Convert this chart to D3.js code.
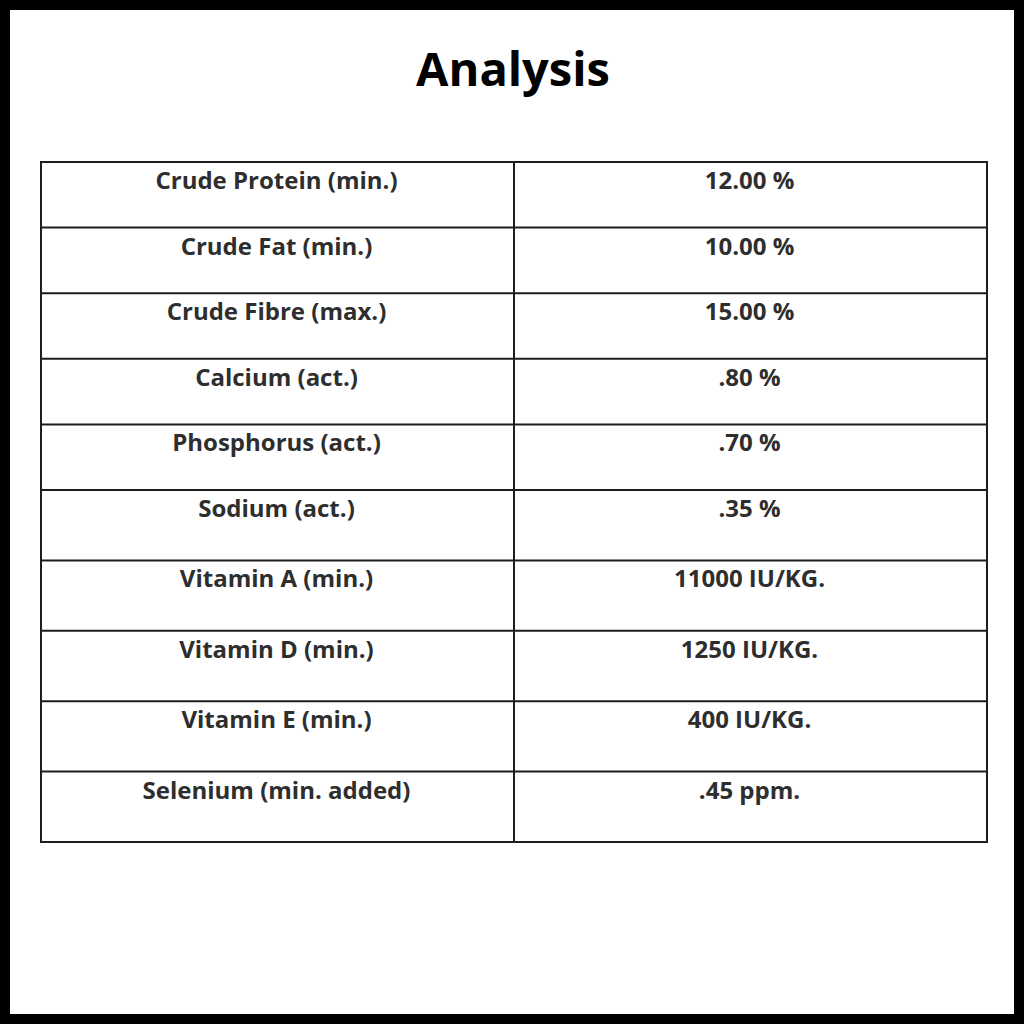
<!DOCTYPE html>
<html>
<head>
<meta charset="utf-8">
<script src="https://cdn.jsdelivr.net/npm/d3@7"></script>
<style>
  html, body { margin: 0; padding: 0; background: #000; }
  svg { display: block; }
</style>
</head>
<body>
<svg id="chart" width="1024" height="1024"></svg>
<script>
const nutrients = [
  "Crude Protein (min.)",
  "Crude Fat (min.)",
  "Crude Fibre (max.)",
  "Calcium (act.)",
  "Phosphorus (act.)",
  "Sodium (act.)",
  "Vitamin A (min.)",
  "Vitamin D (min.)",
  "Vitamin E (min.)",
  "Selenium (min. added)"
];
const amounts = [
  "12.00 %",
  "10.00 %",
  "15.00 %",
  ".80 %",
  ".70 %",
  ".35 %",
  "11000 IU/KG.",
  "1250 IU/KG.",
  "400 IU/KG.",
  ".45 ppm."
];
const columns = ["nutrient", "amount"];
const title = "Analysis";

const svg = d3.select("#chart"),
  width = +svg.attr("width"),
  height = +svg.attr("height"),
  frame = 10,
  margin = {top: 162, right: 38, bottom: 182, left: 40},
  lineColor = "#1e1e1e",
  textColor = "#2e2e2e",
  font = "'Open Sans', 'Noto Sans', sans-serif";

// white page inside the black frame
svg.append("rect")
  .attr("x", frame).attr("y", frame)
  .attr("width", width - 2 * frame)
  .attr("height", height - 2 * frame)
  .attr("fill", "#fff");

svg.append("text")
  .attr("x", width / 2 + 1)
  .attr("y", 86)
  .attr("text-anchor", "middle")
  .attr("font-family", font)
  .attr("font-weight", 700)
  .attr("font-size", 47)
  .attr("fill", "#000")
  .text(title);

const rows = nutrients.map((n, i) => ({nutrient: n, amount: amounts[i]}));

// rows in the lower half of the table are a little taller
const y = d3.scaleLinear()
  .domain([0, 5, rows.length])
  .range([margin.top, 490, height - margin.bottom]);

const x = d3.scaleBand()
  .domain(columns)
  .range([margin.left, width - margin.right]);

const g = svg.append("g");

// horizontal rules
g.selectAll("line.row")
  .data(d3.range(rows.length + 1))
  .enter().append("line")
  .attr("class", "row")
  .attr("x1", x.range()[0])
  .attr("x2", x.range()[1])
  .attr("y1", d => y(d))
  .attr("y2", d => y(d))
  .attr("stroke", lineColor)
  .attr("stroke-width", 2);

// vertical rules
g.selectAll("line.col")
  .data(columns.map(c => x(c)).concat([x.range()[1]]))
  .enter().append("line")
  .attr("class", "col")
  .attr("x1", d => d + 1)
  .attr("x2", d => d + 1)
  .attr("y1", y(0) - 1)
  .attr("y2", y(rows.length) + 1)
  .attr("stroke", lineColor)
  .attr("stroke-width", 2);

const cells = g.selectAll("g.rowtext")
  .data(rows)
  .enter().append("g")
  .attr("class", "rowtext")
  .attr("transform", (d, i) => "translate(0," + (y(i) + 27) + ")");

columns.forEach(c => {
  cells.append("text")
    .attr("x", x(c) + x.bandwidth() / 2)
    .attr("text-anchor", "middle")
    .attr("font-family", font)
    .attr("font-weight", 700)
    .attr("font-size", 24)
    .attr("fill", textColor)
    .text(d => d[c]);
});
</script>
</body>
</html>
